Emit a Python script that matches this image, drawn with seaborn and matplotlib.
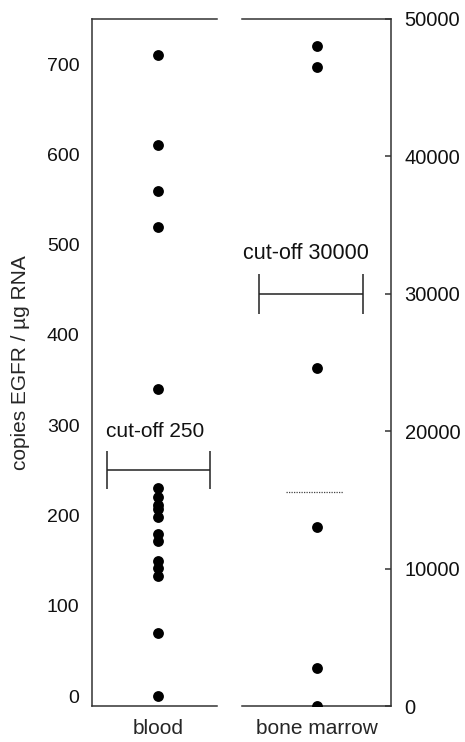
import matplotlib
matplotlib.use("Agg")
import matplotlib.pyplot as plt
import seaborn as sns
import pandas as pd

# EGFR copy numbers per sample
blood_values = [710, 610, 560, 520, 340, 230, 220, 212, 207, 198,
                180, 172, 150, 142, 133, 70, 0]
marrow_values = [48000, 46500, 24600, 13000, 2800, 0]

group_labels = ["blood", "bone marrow"]
blood_cutoff = 250
marrow_cutoff = 30000
marrow_dotted = 15600

blood_ticks = [0, 100, 200, 300, 400, 500, 600, 700]
marrow_ticks = [0, 10000, 20000, 30000, 40000, 50000]

sns.set_theme(style="white")
plt.rcParams["font.family"] = ["Liberation Sans", "DejaVu Sans"]
plt.rcParams["font.size"] = 14
plt.rcParams["text.color"] = "#111111"

W, H = 465, 742
fig = plt.figure(figsize=(W / 100, H / 100), dpi=100)

def rect(x0, x1, y0, y1):
    return [x0 / W, 1 - y1 / H, (x1 - x0) / W, (y1 - y0) / H]

ax1 = fig.add_axes(rect(92, 217, 19, 706))
ax2 = fig.add_axes(rect(241.7, 390.7, 19, 706))

df_blood = pd.DataFrame({"group": group_labels[0], "value": blood_values})
df_marrow = pd.DataFrame({"group": group_labels[1], "value": marrow_values})

sns.stripplot(data=df_blood, x="group", y="value", ax=ax1, jitter=False,
              color="black", size=7.8, linewidth=0, clip_on=False, zorder=3)
sns.stripplot(data=df_marrow, x="group", y="value", ax=ax2, jitter=False,
              color="black", size=7.8, linewidth=0, zorder=3)

spine_color = "#333333"
for ax in (ax1, ax2):
    for s in ax.spines.values():
        s.set_color(spine_color)
        s.set_linewidth(1.1)
    ax.set_xlabel("")
    ax.tick_params(axis="x", length=0, pad=9, labelsize=15)
    ax.tick_params(axis="y", direction="in", length=4, width=1.1,
                   colors=spine_color, labelcolor="#111111", labelsize=14)

# left panel: blood
ax1.set_xlim(-0.528, 0.472)
ax1.set_ylim(-11, 750)
ax1.set_yticks(blood_ticks)
ax1.spines["right"].set_visible(False)
ax1.tick_params(axis="y", pad=9)
ax1.set_ylabel("copies EGFR / µg RNA", fontsize=15, va="center")
ax1.yaxis.set_label_coords(-(92 - 20.5) / 125, 0.5)
ax1.errorbar(0.003, blood_cutoff, xerr=0.413, color="#222222", lw=1.1,
             capsize=13.5, capthick=1.1)
ax1.text(-0.024, 293, f"cut-off {blood_cutoff}",
         ha="center", va="center", fontsize=15)

# right panel: bone marrow
ax2.set_xlim(-0.503, 0.497)
ax2.set_ylim(0, 50000)
ax2.set_yticks(marrow_ticks)
ax2.spines["left"].set_visible(False)
ax2.yaxis.tick_right()
ax2.tick_params(axis="y", pad=10, labelsize=14.5)
ax2.set_ylabel("")
ax2.errorbar(-0.036, marrow_cutoff, xerr=0.349, color="#222222", lw=1.1,
             capsize=14.5, capthick=1.1)
ax2.text(-0.071, 32900, f"cut-off {marrow_cutoff}",
         ha="center", va="center", fontsize=15.5)
ax2.hlines(marrow_dotted, -0.206, 0.179, colors="#444444",
           linestyles=(0, (1, 1)), lw=0.9)

fig.savefig("out.png", dpi=100, facecolor="white")
